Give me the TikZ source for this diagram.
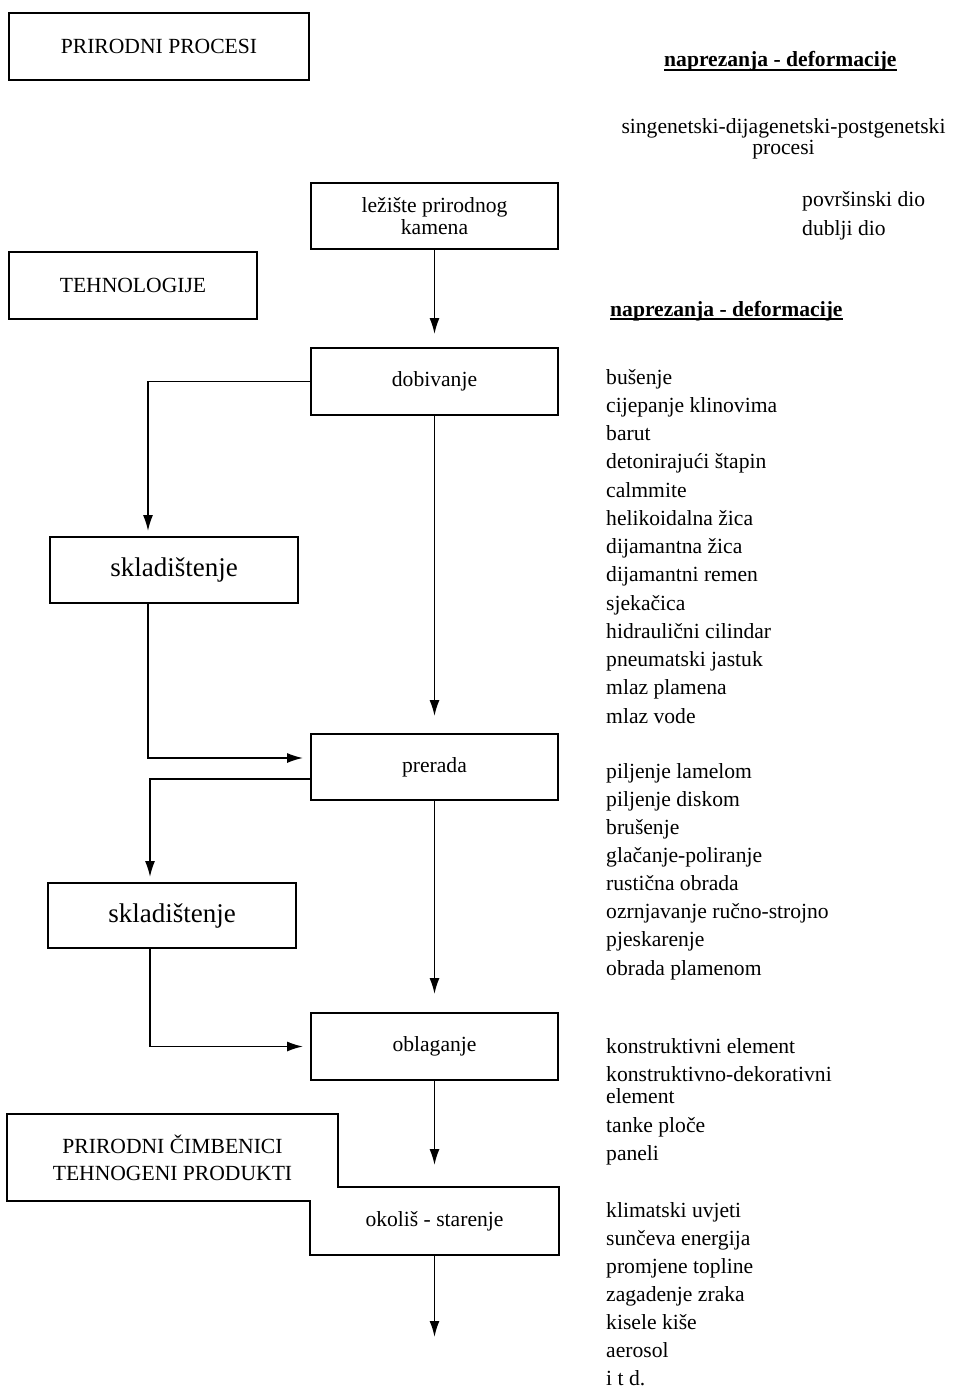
\documentclass[tikz,border=0pt]{standalone}
\usepackage{fontspec}
\setmainfont{Liberation Serif}
\usetikzlibrary{arrows.meta}

\begin{document}
\begin{tikzpicture}[x=1pt,y=-1pt,
    font=\fontsize{21.6}{26}\selectfont,
    box/.style={draw, line width=1.8pt, minimum width=247pt, minimum height=66pt, inner sep=0pt, align=center},
    store/.style={box, minimum width=248pt, font=\fontsize{27}{30}\selectfont},
    item/.style={anchor=base west, inner sep=0pt},
    flow/.style={line width=1.8pt, -{Latex[length=16pt,width=10pt]}}]
    \useasboundingbox (0,0) rectangle (953,1388);

    % headings
    \node[box, minimum width=300pt, minimum height=67pt] (proc) at (159,46.5) {PRIRODNI PROCESI};
    \node[box, minimum width=248pt, minimum height=67pt] (tehn) at (133,285.5) {TEHNOLOGIJE};

    % main chain
    \node[box, font=\fontsize{21.6}{22.5}\selectfont] (lez) at (434.5,216) {ležište prirodnog\\kamena};
    \node[box, minimum height=67pt] (dobiv) at (434.5,381.5) {dobivanje};
    \node[store] (skl1) at (174,570) {skladištenje};
    \node[box] (prer) at (434.5,767) {prerada};
    \node[store, minimum height=65pt] (skl2) at (172,915.5) {skladištenje};
    \node[box, minimum height=67pt] (oblag) at (434.5,1046.5) {oblaganje};

    % environment block
    \node[box, draw=none, minimum width=329pt, minimum height=85pt, font=\fontsize{21.6}{27}\selectfont] (prir) at (172.5,1157.5) {PRIRODNI ČIMBENICI\\TEHNOGENI PRODUKTI};
    \node[box, draw=none] (okol) at (434.5,1221) {okoliš - starenje};
    \draw[line width=1.8pt] (prir.north west) -- (prir.north east) -- (prir.north east |- okol.north)
        -- (okol.north east) -- (okol.south east) -- (okol.south west)
        -- (okol.west |- prir.south) -- (prir.south west) -- cycle;

    % Arrows
    \draw[flow, shorten >=13pt] (lez.south) -- (dobiv.north);
    \draw[flow, shorten >=5pt] (dobiv.west) -| ([xshift=-26pt]skl1.north);
    \draw[flow, shorten >=17pt] (dobiv.south) -- (prer.north);
    \draw[flow, shorten >=7pt] ([xshift=-26pt]skl1.south) |- ([yshift=9pt]prer.west);
    \draw[flow, shorten >=5pt] ([yshift=-12pt]prer.west) -| ([xshift=-22pt]skl2.north);
    \draw[flow, shorten >=18pt] (prer.south) -- (oblag.north);
    \draw[flow, shorten >=7pt] ([xshift=-22pt]skl2.south) |- (oblag.west);
    \draw[flow, shorten >=22pt] (oblag.south) -- (okol.north);
    \coordinate (kraj) at (434.5,1337);
    \draw[flow] (okol.south) -- (kraj);

    % right column
    \node[item, font=\bfseries\fontsize{21.6}{26}\selectfont] (np1) at (664,67) {naprezanja - deformacije};
    \draw[line width=1.8pt] ([yshift=-3pt]np1.base west) -- ([yshift=-3pt]np1.base east);
    \node[inner sep=0pt, align=center, font=\fontsize{21.6}{21}\selectfont] (geneza) at (783.5,139) {singenetski-dijagenetski-postgenetski\\procesi};
    \node[item] (povr) at (802,207) {površinski dio};
    \node[item] (dublji) at (802,236) {dublji dio};
    \node[item, font=\bfseries\fontsize{21.6}{26}\selectfont] (np2) at (610,316) {naprezanja - deformacije};
    \draw[line width=1.8pt] ([yshift=-3pt]np2.base west) -- ([yshift=-3pt]np2.base east);

    \foreach \t [count=\i from 0] in {bušenje, cijepanje klinovima, barut, detonirajući štapin,
        calmmite, helikoidalna žica, dijamantna žica, dijamantni remen, sjekačica,
        hidraulični cilindar, pneumatski jastuk, mlaz plamena, mlaz vode}
        \node[item] (dob\i) at (606,{384+28.25*\i}) {\t};

    \foreach \t [count=\i from 0] in {piljenje lamelom, piljenje diskom, brušenje,
        glačanje-poliranje, rustična obrada, ozrnjavanje ručno-strojno, pjeskarenje, obrada plamenom}
        \node[item] (pre\i) at (606,{778+28.15*\i}) {\t};

    \node[item] (obl1) at (606,1053) {konstruktivni element};
    \node[item] (obl2) at (606,1081) {konstruktivno-dekorativni};
    \node[item] (obl3) at (606,1103) {element};
    \node[item] (obl4) at (606,1132) {tanke ploče};
    \node[item] (obl5) at (606,1160) {paneli};

    \foreach \t [count=\i from 0] in {klimatski uvjeti, sunčeva energija, promjene topline,
        zagadenje zraka, kisele kiše, aerosol, i t d.}
        \node[item] (oko\i) at (606,{1217+28.1*\i}) {\t};

\end{tikzpicture}
\end{document}
